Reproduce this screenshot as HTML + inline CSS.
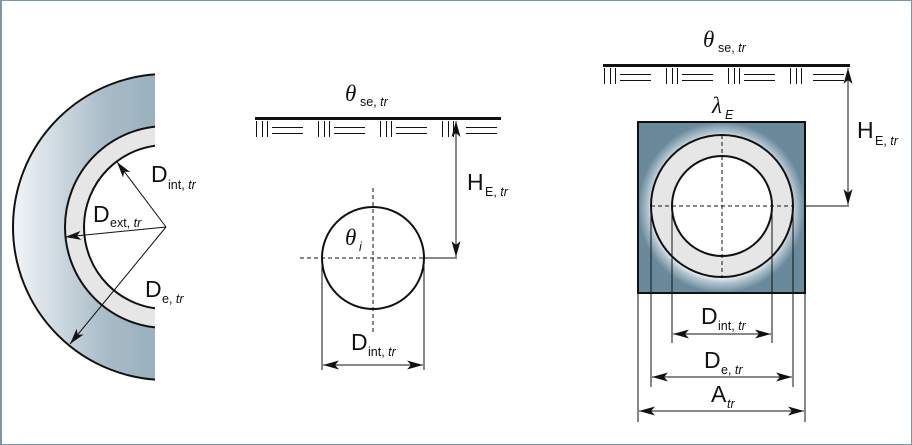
<!DOCTYPE html>
<html><head><meta charset="utf-8"><style>
html,body{margin:0;padding:0;background:#fff}
svg{display:block}
text{font-family:"Liberation Sans",sans-serif;fill:#111}
.L{font-size:23px}
.s{font-size:12.5px}
.i{font-style:italic}
</style></head><body>
<svg width="912" height="445" viewBox="0 0 912 445" xmlns="http://www.w3.org/2000/svg">
<defs>
<linearGradient id="lg" x1="0" x2="1" y1="0" y2="0">
<stop offset="0" stop-color="#f2f5f7"/><stop offset="0.3" stop-color="#a9bcc8"/><stop offset="1" stop-color="#6a8a9c"/>
</linearGradient>
<radialGradient id="rg" cx="0.5" cy="0.5" r="0.5">
<stop offset="0.8" stop-color="#ffffff"/><stop offset="0.88" stop-color="#b3c5d0"/><stop offset="1" stop-color="#6a8a9c"/>
</radialGradient>
<clipPath id="cl"><rect x="0" y="0" width="155" height="445"/></clipPath>
<marker id="ar" viewBox="0 0 16 9" refX="16" refY="4.5" markerWidth="16" markerHeight="9" markerUnits="userSpaceOnUse" orient="auto-start-reverse">
<path d="M0 0L16 4.5L0 9L4 4.5Z" fill="#111"/>
</marker>
</defs>
<rect x="0.5" y="0.5" width="911" height="444" fill="#fff" stroke="#7d95a5" stroke-width="1"/>
<rect x="0" y="0" width="2" height="445" fill="#7d95a5"/>

<!-- Left figure -->
<g clip-path="url(#cl)">
<circle cx="166" cy="227" r="153" fill="url(#lg)" stroke="#111" stroke-width="2"/>
<circle cx="166" cy="227" r="101" fill="#e6e6e6" stroke="#111" stroke-width="2"/>
<circle cx="166" cy="227" r="82" fill="#fff" stroke="#111" stroke-width="2"/>
</g>
<line x1="166" y1="227" x2="117" y2="162" stroke="#111" stroke-width="1" marker-end="url(#ar)"/>
<line x1="166" y1="227" x2="65" y2="237" stroke="#111" stroke-width="1" marker-end="url(#ar)"/>
<line x1="166" y1="227" x2="70" y2="344" stroke="#111" stroke-width="1" marker-end="url(#ar)"/>
<text x="151" y="182" class="L">D</text><text x="168" y="189" class="s">int, <tspan class="i">tr</tspan></text>
<text x="93" y="222" class="L">D</text><text x="110" y="227" class="s">ext, <tspan class="i">tr</tspan></text>
<text x="145" y="297" class="L">D</text><text x="162" y="303" class="s">e, <tspan class="i">tr</tspan></text>

<!-- Middle figure -->
<rect x="255" y="117" width="246" height="3" fill="#111"/>
<path stroke="#111" stroke-width="1" fill="none" d="
M256.5 121V137M262.5 121V137M267.5 121V137M272 127.5H303M272 133.5H303
M318.5 121V137M324.5 121V137M329.5 121V137M334 127.5H365M334 133.5H365
M380.5 121V137M386.5 121V137M391.5 121V137M396 127.5H427M396 133.5H427
M442.5 121V137M448.5 121V137M453.5 121V137M466 127.5H497M466 133.5H497"/>
<text x="345" y="101" class="L i" style="font-family:'Liberation Serif',serif">θ</text><text x="360" y="106" class="s">se, <tspan class="i">tr</tspan></text>
<circle cx="373" cy="258" r="51" fill="#fff" stroke="#111" stroke-width="2"/>
<line x1="373" y1="188" x2="373" y2="332" stroke="#111" stroke-dasharray="4,3"/>
<line x1="300" y1="258" x2="424" y2="258" stroke="#111" stroke-dasharray="4,3"/>
<line x1="424" y1="258" x2="457" y2="258" stroke="#111"/>
<line x1="456" y1="121" x2="456" y2="257" stroke="#111" marker-start="url(#ar)" marker-end="url(#ar)"/>
<text x="467" y="190" class="L">H</text><text x="485" y="196" class="s">E, <tspan class="i">tr</tspan></text>
<text x="345" y="245" class="L i" style="font-family:'Liberation Serif',serif">θ</text><text x="359" y="251" class="s i">i</text>
<line x1="322" y1="258" x2="322" y2="370" stroke="#111"/>
<line x1="424" y1="258" x2="424" y2="370" stroke="#111"/>
<line x1="323" y1="365" x2="423" y2="365" stroke="#111" marker-start="url(#ar)" marker-end="url(#ar)"/>
<text x="351" y="350" class="L">D</text><text x="368" y="356" class="s">int, <tspan class="i">tr</tspan></text>

<!-- Right figure -->
<rect x="603" y="64" width="247" height="3" fill="#111"/>
<path stroke="#111" stroke-width="1" fill="none" d="
M604.5 68V84M610.5 68V84M615.5 68V84M620 74.5H651M620 80.5H651
M666.5 68V84M672.5 68V84M677.5 68V84M682 74.5H713M682 80.5H713
M728.5 68V84M734.5 68V84M739.5 68V84M744 74.5H775M744 80.5H775
M790.5 68V84M796.5 68V84M801.5 68V84M813 74.5H844M813 80.5H844"/>
<text x="703" y="47" class="L i" style="font-family:'Liberation Serif',serif">θ</text><text x="718" y="52" class="s">se, <tspan class="i">tr</tspan></text>
<rect x="638" y="122" width="167" height="171" fill="url(#rg)" stroke="#111" stroke-width="2"/>
<circle cx="722" cy="206" r="71" fill="#e6e6e6" stroke="#111" stroke-width="2"/>
<circle cx="722" cy="206" r="50" fill="#fff" stroke="#111" stroke-width="2"/>
<line x1="722" y1="135" x2="722" y2="277" stroke="#111" stroke-dasharray="4,3"/>
<line x1="651" y1="206" x2="793" y2="206" stroke="#111" stroke-dasharray="4,3"/>
<line x1="805" y1="206" x2="849" y2="206" stroke="#111"/>
<line x1="848" y1="68" x2="848" y2="205" stroke="#111" marker-start="url(#ar)" marker-end="url(#ar)"/>
<text x="857" y="138" class="L">H</text><text x="875" y="145" class="s">E, <tspan class="i">tr</tspan></text>
<text x="712" y="113" class="L i" style="font-family:'Liberation Serif',serif">λ</text><text x="725" y="119" class="s i">E</text>
<line x1="638" y1="293" x2="638" y2="422" stroke="#111"/>
<line x1="805" y1="293" x2="805" y2="422" stroke="#111"/>
<line x1="651" y1="206" x2="651" y2="387" stroke="#111"/>
<line x1="793" y1="206" x2="793" y2="387" stroke="#111"/>
<line x1="672" y1="206" x2="672" y2="343" stroke="#111"/>
<line x1="772" y1="206" x2="772" y2="343" stroke="#111"/>
<line x1="673" y1="334" x2="771" y2="334" stroke="#111" marker-start="url(#ar)" marker-end="url(#ar)"/>
<line x1="652" y1="377" x2="792" y2="377" stroke="#111" marker-start="url(#ar)" marker-end="url(#ar)"/>
<line x1="639" y1="411" x2="804" y2="411" stroke="#111" marker-start="url(#ar)" marker-end="url(#ar)"/>
<text x="701" y="324" class="L">D</text><text x="718" y="330" class="s">int, <tspan class="i">tr</tspan></text>
<text x="704" y="368" class="L">D</text><text x="721" y="374" class="s">e, <tspan class="i">tr</tspan></text>
<text x="711" y="402" class="L">A</text><text x="727" y="408" class="s i">tr</text>
</svg>
</body></html>
